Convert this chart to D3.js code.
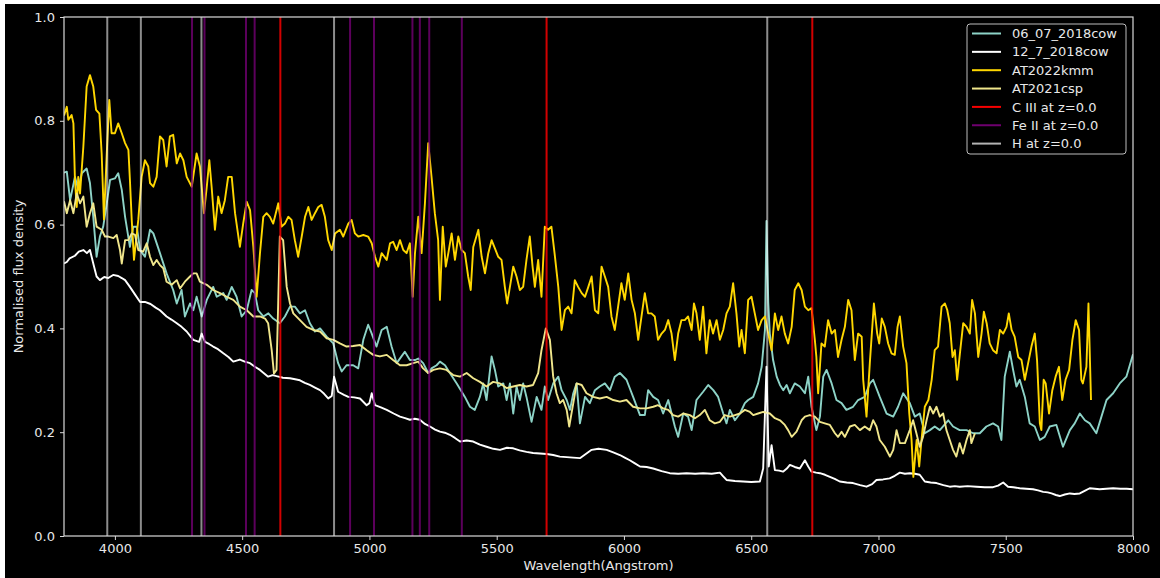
<!DOCTYPE html>
<html>
<head>
<meta charset="utf-8">
<script src="https://cdn.jsdelivr.net/npm/d3@7"></script>
<style>
  html, body { margin: 0; padding: 0; background: #ffffff; }
  svg { display: block; }
  text { font-family: "DejaVu Sans", sans-serif; }
</style>
</head>
<body>
<svg id="chart" width="1160" height="578"></svg>
<script>
// Normalised spectra: [wavelength (Angstrom), normalised flux]
const cow0607 = [
  [3800,0.70],[3811,0.702],[3824,0.647],[3843,0.692],[3856,0.667],[3870,0.699],[3889,0.708],[3902,0.68],
  [3915,0.615],[3928,0.538],[3941,0.577],[3954,0.596],[3968,0.641],[3981,0.686],[4000,0.689],[4013,0.699],
  [4027,0.667],[4040,0.615],[4059,0.557],[4072,0.596],[4086,0.596],[4099,0.551],[4118,0.538],[4138,0.59],
  [4151,0.583],[4177,0.545],[4203,0.506],[4229,0.474],[4243,0.448],[4262,0.474],[4275,0.423],[4295,0.448],
  [4308,0.435],[4321,0.461],[4341,0.423],[4361,0.455],[4386,0.48],[4400,0.461],[4426,0.468],[4439,0.455],
  [4459,0.48],[4478,0.461],[4498,0.423],[4518,0.435],[4537,0.474],[4550,0.468],[4563,0.435],[4583,0.423],
  [4603,0.429],[4622,0.419],[4648,0.41],[4668,0.423],[4688,0.442],[4707,0.442],[4727,0.429],[4747,0.435],
  [4766,0.41],[4786,0.394],[4806,0.40],[4832,0.384],[4858,0.371],[4877,0.333],[4891,0.317],[4910,0.329],
  [4936,0.329],[4956,0.323],[4976,0.378],[4995,0.407],[5009,0.39],[5028,0.365],[5048,0.397],[5068,0.403],
  [5087,0.365],[5107,0.333],[5126,0.346],[5139,0.355],[5159,0.339],[5179,0.339],[5192,0.342],[5211,0.333],
  [5231,0.314],[5244,0.323],[5264,0.329],[5277,0.336],[5297,0.329],[5316,0.314],[5343,0.294],[5375,0.268],
  [5395,0.249],[5414,0.243],[5434,0.268],[5447,0.294],[5460,0.262],[5480,0.346],[5493,0.32],[5506,0.288],
  [5526,0.294],[5539,0.262],[5552,0.294],[5565,0.236],[5578,0.288],[5591,0.262],[5604,0.294],[5617,0.268],
  [5637,0.22],[5657,0.268],[5676,0.243],[5689,0.288],[5702,0.262],[5722,0.294],[5742,0.307],[5755,0.281],
  [5775,0.262],[5788,0.243],[5801,0.275],[5814,0.294],[5827,0.217],[5847,0.268],[5866,0.256],[5886,0.281],
  [5905,0.288],[5925,0.294],[5945,0.281],[5964,0.307],[5984,0.314],[6010,0.301],[6036,0.268],[6063,0.233],
  [6082,0.233],[6095,0.281],[6115,0.268],[6134,0.262],[6154,0.236],[6174,0.262],[6200,0.211],[6213,0.191],
  [6233,0.236],[6252,0.23],[6266,0.204],[6285,0.262],[6311,0.278],[6331,0.291],[6351,0.281],[6370,0.268],
  [6390,0.236],[6403,0.217],[6416,0.243],[6436,0.223],[6456,0.236],[6475,0.256],[6488,0.262],[6508,0.268],
  [6527,0.294],[6541,0.326],[6554,0.397],[6560,0.607],[6567,0.45],[6573,0.39],[6586,0.339],[6600,0.307],
  [6613,0.291],[6626,0.281],[6639,0.291],[6652,0.275],[6671,0.294],[6691,0.288],[6711,0.275],[6724,0.307],
  [6737,0.249],[6756,0.204],[6770,0.23],[6783,0.307],[6796,0.32],[6816,0.294],[6835,0.262],[6855,0.256],
  [6874,0.243],[6900,0.249],[6920,0.262],[6946,0.268],[6966,0.294],[6979,0.301],[7005,0.268],[7032,0.236],
  [7058,0.23],[7077,0.249],[7097,0.275],[7123,0.256],[7143,0.23],[7162,0.236],[7182,0.198],[7202,0.204],
  [7221,0.211],[7241,0.204],[7274,0.223],[7293,0.211],[7319,0.204],[7346,0.204],[7372,0.198],[7398,0.198],
  [7424,0.211],[7450,0.217],[7470,0.211],[7483,0.185],[7496,0.307],[7516,0.355],[7529,0.32],[7542,0.288],
  [7555,0.301],[7575,0.268],[7594,0.217],[7614,0.211],[7634,0.185],[7653,0.191],[7673,0.211],[7699,0.214],
  [7725,0.172],[7752,0.204],[7771,0.217],[7791,0.236],[7811,0.223],[7830,0.217],[7856,0.198],[7876,0.23],
  [7896,0.262],[7922,0.275],[7948,0.294],[7974,0.307],[8000,0.35]
];

const cow127 = [
  [3800,0.525],[3811,0.528],[3822,0.535],[3843,0.54],[3858,0.548],[3876,0.551],[3890,0.545],[3902,0.551],
  [3915,0.525],[3928,0.50],[3941,0.493],[3958,0.499],[3974,0.497],[3993,0.503],[4013,0.501],[4027,0.497],
  [4040,0.493],[4059,0.48],[4078,0.466],[4099,0.451],[4118,0.451],[4140,0.447],[4160,0.44],[4177,0.435],
  [4203,0.423],[4222,0.417],[4243,0.41],[4262,0.403],[4282,0.394],[4308,0.378],[4331,0.374],[4341,0.39],
  [4354,0.374],[4370,0.37],[4386,0.365],[4405,0.36],[4426,0.352],[4446,0.345],[4465,0.336],[4491,0.34],
  [4510,0.336],[4531,0.333],[4550,0.326],[4570,0.32],[4602,0.307],[4620,0.31],[4635,0.308],[4660,0.305],
  [4688,0.304],[4708,0.302],[4727,0.30],[4746,0.295],[4766,0.291],[4786,0.286],[4806,0.281],[4822,0.274],
  [4838,0.265],[4852,0.27],[4861,0.307],[4877,0.278],[4900,0.272],[4917,0.268],[4940,0.267],[4963,0.265],
  [4989,0.252],[5000,0.256],[5009,0.275],[5022,0.252],[5045,0.248],[5068,0.243],[5095,0.236],[5120,0.23],
  [5140,0.227],[5159,0.224],[5178,0.226],[5198,0.224],[5218,0.216],[5238,0.211],[5258,0.205],[5277,0.201],
  [5296,0.199],[5316,0.195],[5336,0.189],[5356,0.182],[5382,0.184],[5408,0.182],[5434,0.176],[5460,0.172],
  [5487,0.168],[5513,0.166],[5540,0.17],[5565,0.169],[5590,0.165],[5617,0.162],[5643,0.16],[5670,0.159],
  [5696,0.158],[5722,0.156],[5748,0.153],[5775,0.152],[5800,0.151],[5827,0.15],[5850,0.158],[5873,0.166],
  [5900,0.168],[5932,0.166],[5958,0.161],[5984,0.156],[6003,0.151],[6023,0.146],[6043,0.14],[6063,0.134],
  [6089,0.133],[6115,0.13],[6148,0.125],[6180,0.121],[6213,0.12],[6246,0.121],[6280,0.12],[6311,0.121],
  [6345,0.12],[6377,0.122],[6390,0.115],[6403,0.108],[6436,0.106],[6468,0.105],[6500,0.104],[6534,0.105],
  [6547,0.13],[6560,0.326],[6569,0.134],[6580,0.175],[6593,0.127],[6610,0.126],[6625,0.124],[6640,0.13],
  [6652,0.137],[6671,0.133],[6691,0.13],[6711,0.146],[6724,0.134],[6737,0.124],[6755,0.122],[6770,0.121],
  [6790,0.118],[6809,0.114],[6828,0.11],[6848,0.105],[6875,0.103],[6900,0.102],[6928,0.098],[6953,0.095],
  [6975,0.1],[6992,0.108],[7018,0.109],[7044,0.111],[7064,0.116],[7084,0.122],[7104,0.12],[7123,0.121],
  [7143,0.12],[7162,0.118],[7182,0.105],[7205,0.103],[7228,0.102],[7255,0.098],[7280,0.095],[7300,0.096],
  [7319,0.095],[7350,0.096],[7385,0.095],[7418,0.094],[7450,0.094],[7470,0.097],[7490,0.103],[7509,0.095],
  [7530,0.094],[7555,0.092],[7580,0.091],[7607,0.09],[7627,0.088],[7647,0.085],[7665,0.084],[7680,0.082],
  [7697,0.079],[7712,0.077],[7732,0.08],[7752,0.082],[7770,0.081],[7791,0.082],[7810,0.087],[7830,0.092],
  [7850,0.091],[7869,0.09],[7895,0.091],[7922,0.092],[7950,0.091],[7975,0.091],[8000,0.09]
];

const at2022kmm = [
  [3800,0.81],[3811,0.827],[3817,0.802],[3830,0.811],[3837,0.795],[3843,0.686],[3850,0.634],[3856,0.692],
  [3863,0.66],[3876,0.75],[3889,0.866],[3902,0.888],[3915,0.866],[3926,0.821],[3939,0.814],[3948,0.737],
  [3957,0.61],[3968,0.737],[3978,0.84],[3987,0.776],[4000,0.776],[4013,0.795],[4027,0.776],[4040,0.757],
  [4053,0.744],[4059,0.686],[4066,0.61],[4075,0.532],[4092,0.61],[4105,0.692],[4118,0.724],[4131,0.712],
  [4138,0.68],[4151,0.673],[4164,0.692],[4177,0.77],[4190,0.763],[4203,0.712],[4216,0.77],[4229,0.773],
  [4243,0.718],[4256,0.737],[4269,0.724],[4282,0.692],[4302,0.673],[4321,0.737],[4334,0.712],[4350,0.622],
  [4361,0.673],[4371,0.724],[4380,0.673],[4393,0.59],[4406,0.654],[4419,0.622],[4432,0.647],[4445,0.692],
  [4459,0.692],[4472,0.622],[4491,0.557],[4504,0.602],[4518,0.644],[4531,0.628],[4544,0.557],[4557,0.461],
  [4570,0.545],[4583,0.615],[4596,0.622],[4609,0.615],[4622,0.602],[4642,0.641],[4655,0.596],[4668,0.602],
  [4681,0.615],[4694,0.609],[4707,0.57],[4720,0.538],[4734,0.577],[4747,0.615],[4760,0.634],[4773,0.609],
  [4786,0.622],[4799,0.634],[4812,0.638],[4825,0.615],[4838,0.57],[4852,0.551],[4865,0.583],[4884,0.59],
  [4897,0.577],[4917,0.602],[4930,0.609],[4943,0.583],[4956,0.577],[4976,0.58],[4995,0.577],[5009,0.564],
  [5022,0.538],[5035,0.519],[5048,0.545],[5068,0.532],[5081,0.564],[5093,0.567],[5107,0.551],[5120,0.57],
  [5133,0.551],[5146,0.545],[5159,0.564],[5170,0.461],[5179,0.545],[5192,0.615],[5205,0.545],[5218,0.641],
  [5231,0.757],[5244,0.692],[5257,0.622],[5270,0.57],[5277,0.455],[5288,0.596],[5300,0.519],[5310,0.545],
  [5323,0.583],[5336,0.532],[5349,0.577],[5362,0.551],[5375,0.545],[5388,0.50],[5398,0.474],[5408,0.557],
  [5428,0.59],[5441,0.538],[5454,0.506],[5467,0.545],[5480,0.57],[5493,0.554],[5506,0.538],[5519,0.532],
  [5532,0.48],[5541,0.448],[5552,0.48],[5565,0.519],[5578,0.50],[5591,0.474],[5604,0.48],[5617,0.532],
  [5630,0.577],[5641,0.519],[5650,0.48],[5663,0.532],[5676,0.461],[5689,0.596],[5702,0.59],[5715,0.596],
  [5729,0.538],[5742,0.48],[5755,0.397],[5768,0.435],[5781,0.442],[5794,0.429],[5807,0.493],[5820,0.48],
  [5834,0.468],[5847,0.461],[5860,0.48],[5873,0.50],[5886,0.435],[5899,0.429],[5912,0.519],[5925,0.50],
  [5938,0.48],[5951,0.423],[5964,0.397],[5977,0.442],[5990,0.487],[6003,0.455],[6017,0.506],[6030,0.455],
  [6043,0.429],[6056,0.378],[6069,0.423],[6082,0.468],[6095,0.429],[6108,0.429],[6121,0.423],[6134,0.378],
  [6148,0.39],[6161,0.397],[6174,0.416],[6187,0.39],[6200,0.339],[6213,0.39],[6226,0.416],[6239,0.416],
  [6252,0.423],[6266,0.397],[6275,0.448],[6285,0.429],[6298,0.378],[6311,0.442],[6324,0.352],[6337,0.416],
  [6350,0.39],[6364,0.416],[6377,0.378],[6390,0.397],[6403,0.429],[6416,0.442],[6429,0.487],[6442,0.429],
  [6453,0.365],[6462,0.397],[6475,0.352],[6488,0.455],[6501,0.461],[6514,0.429],[6527,0.397],[6541,0.416],
  [6554,0.423],[6567,0.39],[6580,0.358],[6593,0.429],[6606,0.397],[6619,0.423],[6632,0.39],[6645,0.371],
  [6659,0.403],[6671,0.474],[6685,0.487],[6698,0.474],[6711,0.442],[6724,0.435],[6737,0.439],[6750,0.378],
  [6756,0.345],[6763,0.275],[6776,0.371],[6789,0.365],[6802,0.416],[6816,0.39],[6829,0.397],[6841,0.345],
  [6855,0.378],[6868,0.403],[6881,0.455],[6894,0.435],[6907,0.339],[6920,0.39],[6934,0.384],[6940,0.301],
  [6953,0.23],[6966,0.333],[6982,0.448],[6995,0.39],[7003,0.371],[7013,0.419],[7025,0.403],[7038,0.371],
  [7051,0.352],[7064,0.349],[7075,0.403],[7084,0.423],[7097,0.365],[7110,0.333],[7121,0.236],[7130,0.185],
  [7137,0.114],[7150,0.185],[7160,0.134],[7169,0.185],[7182,0.249],[7196,0.262],[7209,0.301],[7221,0.358],
  [7234,0.365],[7248,0.442],[7261,0.448],[7270,0.436],[7280,0.41],[7291,0.345],[7300,0.358],[7309,0.301],
  [7320,0.352],[7333,0.41],[7346,0.403],[7359,0.39],[7368,0.455],[7379,0.429],[7392,0.345],[7405,0.39],
  [7414,0.432],[7425,0.41],[7437,0.371],[7450,0.358],[7464,0.352],[7477,0.397],[7490,0.39],[7503,0.403],
  [7512,0.429],[7523,0.397],[7535,0.384],[7549,0.345],[7562,0.339],[7575,0.301],[7588,0.333],[7601,0.365],
  [7614,0.39],[7623,0.339],[7634,0.217],[7640,0.204],[7649,0.301],[7657,0.294],[7670,0.236],[7683,0.281],
  [7696,0.307],[7709,0.326],[7722,0.262],[7735,0.301],[7749,0.32],[7762,0.378],[7775,0.416],[7788,0.397],
  [7797,0.301],[7803,0.294],[7817,0.326],[7825,0.448],[7835,0.262]
];

const at2021csp = [
  [3800,0.645],[3811,0.622],[3824,0.647],[3837,0.622],[3850,0.66],[3863,0.641],[3876,0.654],[3889,0.596],
  [3902,0.622],[3915,0.641],[3928,0.596],[3948,0.59],[3961,0.577],[3974,0.577],[3994,0.574],[4007,0.58],
  [4020,0.551],[4027,0.525],[4040,0.57],[4053,0.57],[4066,0.583],[4079,0.58],[4092,0.551],[4111,0.548],
  [4125,0.564],[4138,0.538],[4151,0.522],[4164,0.532],[4177,0.522],[4190,0.516],[4203,0.49],[4223,0.484],
  [4243,0.493],[4256,0.477],[4275,0.49],[4295,0.50],[4308,0.506],[4321,0.506],[4334,0.49],[4361,0.484],
  [4386,0.474],[4413,0.468],[4439,0.461],[4465,0.455],[4491,0.442],[4518,0.435],[4544,0.423],[4570,0.423],
  [4590,0.419],[4602,0.41],[4616,0.358],[4625,0.313],[4635,0.32],[4648,0.577],[4661,0.57],[4675,0.48],
  [4688,0.448],[4701,0.429],[4727,0.416],[4753,0.403],[4779,0.397],[4806,0.394],[4832,0.381],[4858,0.378],
  [4884,0.371],[4910,0.365],[4936,0.366],[4963,0.368],[4989,0.358],[5015,0.349],[5041,0.346],[5068,0.349],
  [5093,0.339],[5120,0.329],[5146,0.329],[5172,0.333],[5192,0.336],[5211,0.323],[5231,0.314],[5251,0.32],
  [5277,0.323],[5303,0.32],[5329,0.31],[5356,0.307],[5382,0.314],[5408,0.304],[5434,0.297],[5460,0.288],
  [5486,0.297],[5513,0.294],[5539,0.285],[5565,0.288],[5591,0.291],[5617,0.288],[5643,0.291],[5663,0.314],
  [5676,0.358],[5693,0.40],[5709,0.378],[5722,0.307],[5735,0.275],[5748,0.256],[5761,0.262],[5775,0.243],
  [5785,0.211],[5801,0.256],[5814,0.294],[5834,0.291],[5853,0.275],[5879,0.268],[5905,0.265],[5932,0.268],
  [5958,0.262],[5984,0.259],[6010,0.262],[6036,0.249],[6063,0.246],[6089,0.246],[6115,0.249],[6134,0.252],
  [6154,0.246],[6174,0.243],[6193,0.233],[6213,0.23],[6233,0.236],[6259,0.233],[6279,0.227],[6298,0.233],
  [6318,0.243],[6337,0.223],[6357,0.217],[6377,0.22],[6396,0.233],[6416,0.23],[6436,0.233],[6456,0.236],
  [6475,0.243],[6495,0.239],[6508,0.233],[6527,0.236],[6547,0.239],[6573,0.236],[6593,0.227],[6613,0.223],
  [6632,0.214],[6645,0.204],[6659,0.191],[6678,0.201],[6698,0.223],[6711,0.23],[6730,0.233],[6750,0.23],
  [6770,0.22],[6789,0.217],[6809,0.214],[6829,0.198],[6841,0.191],[6855,0.201],[6868,0.191],[6888,0.211],
  [6907,0.214],[6927,0.204],[6946,0.211],[6966,0.204],[6979,0.223],[6992,0.211],[7005,0.185],[7025,0.172],
  [7045,0.153],[7058,0.166],[7071,0.204],[7084,0.179],[7104,0.179],[7123,0.204],[7136,0.223],[7149,0.198],
  [7162,0.172],[7175,0.191],[7189,0.223],[7202,0.249],[7215,0.236],[7228,0.249],[7241,0.23],[7254,0.236],
  [7267,0.204],[7280,0.185],[7293,0.166],[7306,0.153],[7319,0.179],[7332,0.159],[7346,0.185],[7359,0.204],
  [7365,0.179],[7379,0.198]
];

// Rest-frame line positions (Angstrom)
const cIIILines = [4650, 5696, 6740];
const feIILines = [4303, 4352, 4515, 4549, 4924, 5018, 5169, 5198, 5235, 5363];
const hLines = [3970, 4102, 4340, 4861, 6563];

// Axis ticks
const xTickValues = [4000, 4500, 5000, 5500, 6000, 6500, 7000, 7500, 8000];
const yTickValues = [0.0, 0.2, 0.4, 0.6, 0.8, 1.0];

// Legend entries, in drawing order
const legendLabels = ["06_07_2018cow", "12_7_2018cow", "AT2022kmm", "AT2021csp",
                      "C III at z=0.0", "Fe II at z=0.0", "H at z=0.0"];

const spectra = [
  { data: cow0607,   color: "#8dd3c7" },
  { data: cow127,    color: "#ffffff" },
  { data: at2022kmm, color: "#ffd700" },
  { data: at2021csp, color: "#f0e68c" }
];
const lineSets = [
  { waves: cIIILines, color: "#ff0000", opacity: 0.82 },
  { waves: feIILines, color: "#800080", opacity: 0.72 },
  { waves: hLines,    color: "#ffffff", opacity: 0.55 }
];

const svg = d3.select("#chart");
const W = 1160, H = 578;
const plot = { left: 64, right: 1133, top: 17, bottom: 536 };

// figure background
svg.append("rect").attr("x", 5).attr("y", 4).attr("width", W - 5).attr("height", H - 4).attr("fill", "#000");

const x = d3.scaleLinear().domain([3800, 8000]).range([plot.left, plot.right]);
const y = d3.scaleLinear().domain([0, 1]).range([plot.bottom, plot.top]);

svg.append("defs").append("clipPath").attr("id", "plotclip")
  .append("rect").attr("x", plot.left).attr("y", plot.top)
  .attr("width", plot.right - plot.left).attr("height", plot.bottom - plot.top);

const g = svg.append("g").attr("clip-path", "url(#plotclip)");

const line = d3.line().x(d => x(d[0])).y(d => y(d[1]));

spectra.forEach(s => {
  g.append("path").datum(s.data)
    .attr("d", line)
    .attr("fill", "none")
    .attr("stroke", s.color)
    .attr("stroke-width", 1.9)
    .attr("stroke-linejoin", "round");
});

lineSets.forEach(ls => {
  g.selectAll(null).data(ls.waves).enter().append("line")
    .attr("x1", d => x(d)).attr("x2", d => x(d))
    .attr("y1", plot.top).attr("y2", plot.bottom)
    .attr("stroke", ls.color)
    .attr("stroke-opacity", ls.opacity)
    .attr("stroke-width", 2);
});

// axes
const axisColor = "#d9d9d9";
const xAxis = svg.append("g").attr("transform", `translate(0,${plot.bottom})`)
  .call(d3.axisBottom(x).tickValues(xTickValues).tickFormat(d3.format("d")).tickSize(4).tickPadding(4));
const yAxis = svg.append("g").attr("transform", `translate(${plot.left},0)`)
  .call(d3.axisLeft(y).tickValues(yTickValues).tickFormat(d3.format(".1f")).tickSize(4).tickPadding(5));

[xAxis, yAxis].forEach(a => {
  a.select(".domain").remove();
  a.selectAll(".tick line").attr("stroke", axisColor).attr("stroke-width", 1);
  a.selectAll(".tick text").attr("fill", "#e8e8e8").attr("font-size", 13)
    .attr("font-family", "DejaVu Sans, sans-serif");
});

// frame
svg.append("rect")
  .attr("x", plot.left).attr("y", plot.top)
  .attr("width", plot.right - plot.left).attr("height", plot.bottom - plot.top)
  .attr("fill", "none").attr("stroke", axisColor).attr("stroke-width", 1.2);

// axis labels
svg.append("text")
  .attr("x", (plot.left + plot.right) / 2).attr("y", 570)
  .attr("text-anchor", "middle").attr("fill", "#e8e8e8").attr("font-size", 13)
  .text("Wavelength(Angstrom)");
svg.append("text")
  .attr("transform", `translate(23,${(plot.top + plot.bottom) / 2}) rotate(-90)`)
  .attr("text-anchor", "middle").attr("fill", "#e8e8e8").attr("font-size", 13)
  .text("Normalised flux density");

// legend
const legendStyles = spectra.map(s => ({ color: s.color, opacity: 1 }))
  .concat(lineSets.map(ls => ({ color: ls.color, opacity: Math.min(1, ls.opacity + 0.15) })));
const leg = svg.append("g").attr("transform", "translate(967,24)");
leg.append("rect").attr("x", 0).attr("y", 0).attr("width", 159).attr("height", 130)
  .attr("rx", 3).attr("fill", "#000").attr("stroke", "#bdbdbd").attr("stroke-width", 1);
legendLabels.forEach((lab, i) => {
  const cy = 9.5 + i * 18.35;
  leg.append("line").attr("x1", 5).attr("x2", 34).attr("y1", cy).attr("y2", cy)
    .attr("stroke", legendStyles[i].color).attr("stroke-opacity", legendStyles[i].opacity)
    .attr("stroke-width", 2);
  leg.append("text").attr("x", 45).attr("y", cy + 4.6)
    .attr("fill", "#e8e8e8").attr("font-size", 13).text(lab);
});
</script>
</body>
</html>
